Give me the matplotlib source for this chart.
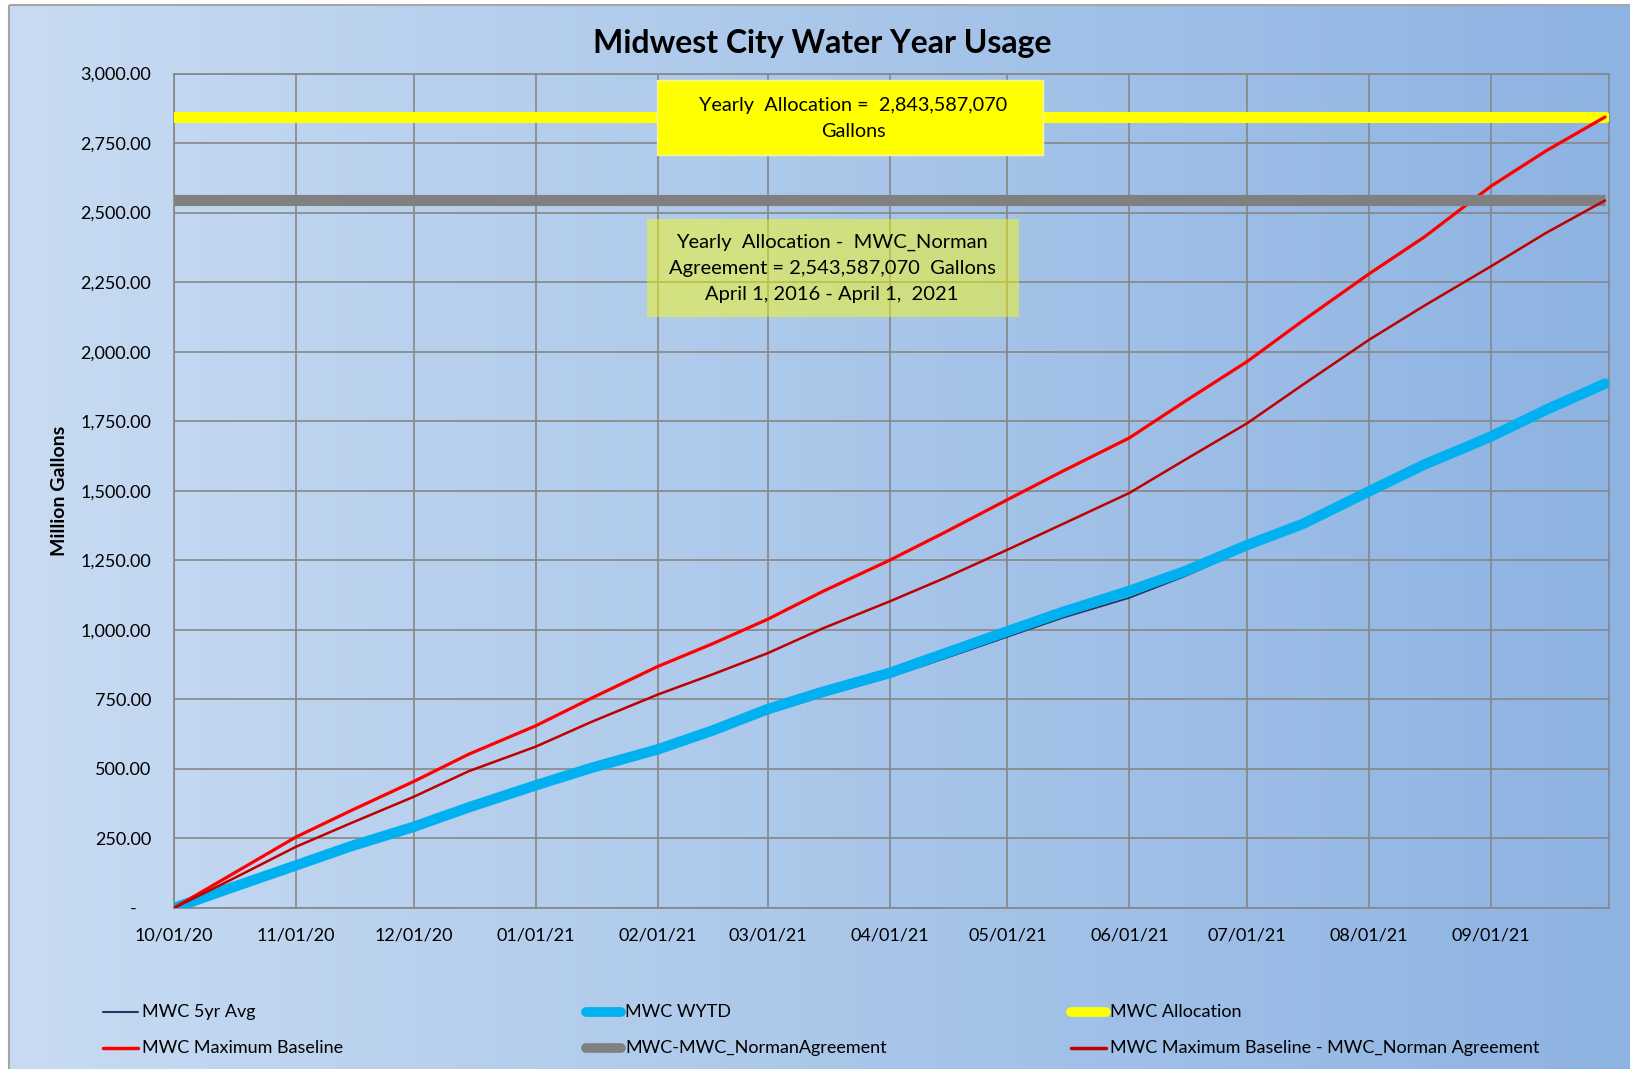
import matplotlib
matplotlib.use("Agg")
import matplotlib.pyplot as plt
import matplotlib.dates as mdates
from matplotlib.lines import Line2D
from matplotlib.patches import Rectangle
from matplotlib.ticker import FuncFormatter
import numpy as np
import pandas as pd

plt.rcParams['font.family'] = ['Lato', 'DejaVu Sans']

# ---------------- data (million gallons) ----------------
dates = ["2020-10-01", "2020-10-15", "2020-11-01", "2020-11-15", "2020-12-01", "2020-12-15",
         "2021-01-01", "2021-01-15", "2021-02-01", "2021-02-15", "2021-03-01", "2021-03-15",
         "2021-04-01", "2021-04-15", "2021-05-01", "2021-05-15", "2021-06-01", "2021-06-15",
         "2021-07-01", "2021-07-15", "2021-08-01", "2021-08-15", "2021-09-01", "2021-09-15",
         "2021-09-30"]
mwc_5yr_avg = [0, 68, 150, 218, 288, 358, 436, 495, 563, 628, 700, 762, 830, 897, 975, 1043,
               1115, 1192, 1292, 1374, 1510, 1598, 1693, 1789, 1882]
mwc_wytd = [0, 70, 153, 222, 292, 362, 441, 503, 570, 638, 715, 777, 845, 915, 995, 1064,
            1140, 1210, 1305, 1380, 1498, 1594, 1695, 1791, 1885]
mwc_max_baseline = [0, 115, 255, 350, 455, 553, 655, 753, 868, 950, 1038, 1138, 1250, 1350,
                    1468, 1570, 1690, 1820, 1965, 2110, 2280, 2412, 2595, 2722, 2843.587]
mwc_max_minus_norman = [0, 98, 220, 305, 400, 492, 580, 668, 767, 840, 916, 1005, 1102, 1186,
                        1288, 1380, 1492, 1610, 1743, 1880, 2043, 2165, 2307, 2427, 2543.587]
limit_dates = ["2020-10-01", "2021-09-30"]
mwc_allocation = [2843.587070, 2843.587070]
mwc_norman_agreement = [2543.587070, 2543.587070]

y_ticks = [0, 250, 500, 750, 1000, 1250, 1500, 1750, 2000, 2250, 2500, 2750, 3000]
x_ticks = ["2020-10-01", "2020-11-01", "2020-12-01", "2021-01-01", "2021-02-01", "2021-03-01",
           "2021-04-01", "2021-05-01", "2021-06-01", "2021-07-01", "2021-08-01", "2021-09-01"]

legend_labels = ["MWC 5yr Avg", "MWC WYTD", "MWC Allocation",
                 "MWC Maximum Baseline", "MWC-MWC_NormanAgreement",
                 "MWC Maximum Baseline - MWC_Norman Agreement"]

# ---------------- figure ----------------
W, H = 1631, 1069
fig = plt.figure(figsize=(W / 100, H / 100), dpi=100)
fig.patch.set_facecolor("white")


def fx(x):
    return x / W


def fy(y):
    return 1 - y / H


# gradient background
bg = fig.add_axes([0, 0, 1, 1], zorder=-10)
bg.set_xlim(0, W)
bg.set_ylim(H, 0)
bg.axis("off")
g = np.linspace(0, 1, 400)
c_left = np.array([200, 219, 242]) / 255
c_right = np.array([141, 179, 226]) / 255
img = c_left[None, :] * (1 - g[:, None]) + c_right[None, :] * g[:, None]
bg.imshow(img[None, :, :], extent=[9, W, H, 5], aspect="auto", interpolation="bilinear")
bg.add_patch(Rectangle((9, 5), W + 20, H + 20, fill=False, edgecolor="#a6a6a6", lw=1.5))

# main axes
ax = fig.add_axes([fx(174), fy(908), fx(1609) - fx(174), fy(73.5) - fy(908)])
ax.set_facecolor("none")

d = pd.to_datetime(dates)
dl = pd.to_datetime(limit_dates)

ax.plot(d, mwc_5yr_avg, color="#1F3864", lw=1.3, zorder=3)
ax.plot(d, mwc_wytd, color="#00B0F0", lw=7.5, solid_capstyle="round", solid_joinstyle="round", zorder=4)
ax.plot(dl, mwc_allocation, color="#FFFF00", lw=8, solid_capstyle="round", zorder=5)
ax.plot(d, mwc_max_baseline, color="#FF0000", lw=2.3, solid_capstyle="round", zorder=6)
ax.plot(dl, mwc_norman_agreement, color="#808080", lw=8, solid_capstyle="butt", zorder=7)
ax.plot(d, mwc_max_minus_norman, color="#C00000", lw=1.8, solid_capstyle="round", zorder=8)

ax.set_xlim(pd.Timestamp("2020-10-01"), pd.Timestamp("2021-10-01"))
ax.set_ylim(0, 3000)
ax.set_yticks(y_ticks)
ax.set_xticks(pd.to_datetime(x_ticks))
ax.xaxis.set_major_formatter(mdates.DateFormatter("%m/%d/%y"))
ax.yaxis.set_major_formatter(FuncFormatter(lambda v, p: "-   " if v == 0 else f"{v:,.2f}"))
ax.tick_params(axis="both", length=0, labelsize=13, colors="black")
ax.tick_params(axis="y", pad=16.5)
ax.tick_params(axis="x", pad=14)
ax.grid(True, color="#878787", lw=1.2, zorder=1)
ax.set_axisbelow(True)
for s in ax.spines.values():
    s.set_color("#878787")
    s.set_linewidth(1.2)
ax.set_ylabel("Million Gallons", fontsize=14, fontweight="bold")
ax.yaxis.set_label_coords((68 - 174) / (1609 - 174), 0.5)

# title
fig.text(fx(822), fy(44), "Midwest City Water Year Usage", ha="center", va="center",
         fontsize=23, fontweight="bold")

# annotation boxes
fig.add_artist(Rectangle((fx(657), fy(155)), fx(1043) - fx(657), fy(80) - fy(155),
                         transform=fig.transFigure, facecolor="#FFFF00", edgecolor="#f2f2b0",
                         lw=1, zorder=20))
fig.text(fx(853), fy(118.5), "Yearly  Allocation =  2,843,587,070\nGallons", ha="center",
         va="center", fontsize=14.3, linespacing=1.65, zorder=21)
fig.add_artist(Rectangle((fx(647), fy(317)), fx(1019) - fx(647), fy(219) - fy(317),
                         transform=fig.transFigure, facecolor="#FFFF00", alpha=0.45,
                         edgecolor="none", zorder=20))
fig.text(fx(832), fy(268),
         "Yearly  Allocation -  MWC_Norman\nAgreement = 2,543,587,070  Gallons\nApril 1, 2016 - April 1,  2021",
         ha="center", va="center", fontsize=14.5, linespacing=1.65, zorder=21)

# legend (manual, Excel layout: 3 columns x 2 rows)
styles = [("#1F3864", 1.5), ("#00B0F0", 7), ("#FFFF00", 7),
          ("#FF0000", 2.5), ("#808080", 7), ("#C00000", 2.5)]
col_x = [100, 583, 1068]
row_y = [1012, 1048]
for i, (lab, (col, lw)) in enumerate(zip(legend_labels, styles)):
    r, c = divmod(i, 3)
    x0 = col_x[c]
    y0 = row_y[r]
    fig.add_artist(Line2D([fx(x0 + 3), fx(x0 + 38)], [fy(y0), fy(y0)], transform=fig.transFigure,
                          color=col, lw=lw, solid_capstyle="round"))
    fig.text(fx(x0 + 42), fy(y0), lab, ha="left", va="center", fontsize=13)

fig.savefig("out.png", dpi=100, facecolor="white")
